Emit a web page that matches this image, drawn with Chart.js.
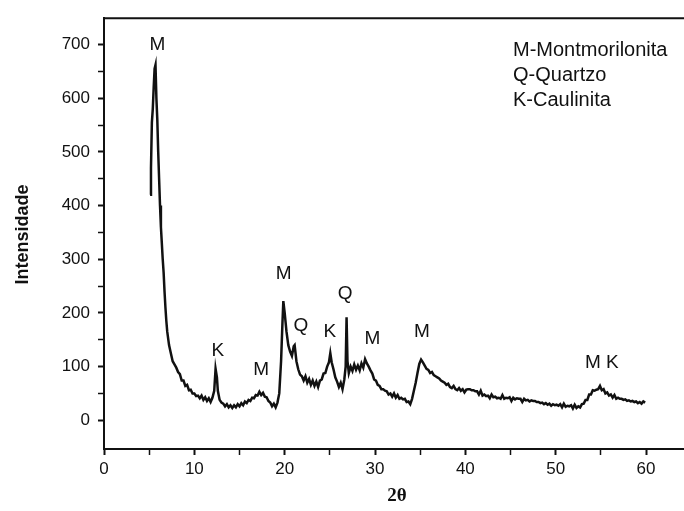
<!DOCTYPE html>
<html><head><meta charset="utf-8">
<script src="https://cdn.jsdelivr.net/npm/chart.js@4"></script>
<style>html,body{margin:0;padding:0;background:#fff}canvas{display:block}</style>
</head><body>
<canvas id="c" width="684" height="511"></canvas>
<script>
const twoTheta = [
5.1,5.2,5.3,5.4,5.5,5.6,5.7,5.8,5.9,6.0,6.1,6.2,6.3,6.4,6.5,6.6,6.7,6.8,6.9,7.0,7.2,7.4,7.6,7.8,8.0,8.2,8.4,8.6,8.8,9.0,9.2,9.4,9.6,9.8,10.0,10.2,10.4,10.6,10.8,11.0,11.2,11.4,11.6,11.8,12.0,12.2,12.35,12.5,12.6,12.8,13.0,
13.2,13.4,13.6,13.8,14.0,14.2,14.4,14.6,14.8,15.0,15.2,15.4,15.6,15.8,16.0,16.2,16.4,16.6,16.8,17.0,17.2,17.4,17.6,17.8,18.0,18.2,18.4,18.6,18.8,19.0,19.2,19.4,19.6,19.75,19.85,20.0,20.2,20.4,20.6,20.8,21.0,21.1,21.3,21.5,21.7,21.9,22.1,22.3,22.5,22.7,22.9,23.1,23.3,23.5,23.7,23.9,24.1,24.3,24.5,24.7,24.9,25.05,25.2,25.4,25.6,25.8,26.0,26.2,26.4,26.6,26.75,26.85,26.95,27.1,27.3,27.5,27.7,27.9,28.1,28.3,28.5,28.7,28.9,29.1,29.3,29.5,29.7,29.9,
30.1,30.3,30.5,30.7,30.9,31.1,31.3,31.5,31.7,31.9,32.1,32.3,32.5,32.7,32.9,33.1,33.3,33.5,33.7,33.9,34.1,34.3,34.5,34.7,34.9,35.1,35.3,35.5,35.7,35.9,36.1,36.3,36.5,36.7,36.9,37.1,37.3,37.5,37.7,37.9,38.1,38.3,38.5,38.7,38.9,39.1,39.3,39.5,39.7,39.9,
40.1,40.3,40.5,40.7,40.9,41.1,41.3,41.5,41.7,41.9,42.1,42.3,42.5,42.7,42.9,43.1,43.3,43.5,43.7,43.9,44.1,44.3,44.5,44.7,44.9,45.1,45.3,45.5,45.7,45.9,46.1,46.3,46.5,46.7,46.9,47.1,47.3,47.5,47.7,47.9,48.1,48.3,48.5,48.7,48.9,49.1,49.3,49.5,49.7,49.9,
50.1,50.3,50.5,50.7,50.9,51.1,51.3,51.5,51.7,51.9,52.1,52.3,52.5,52.7,52.9,53.1,53.3,53.5,53.7,53.9,54.1,54.3,54.5,54.7,54.9,55.1,55.3,55.5,55.7,55.9,56.1,56.3,56.5,56.7,56.9,57.1,57.3,57.5,57.7,57.9,58.1,58.3,58.5,58.7,58.9,59.1,59.3,59.5,59.7,59.9
];
const intensity = [
420,470,555,580,620,655,662,600,560,500,450,400,360,330,300,275,240,210,185,165,140,125,110,104,98,90,86,74,74,64,66,56,57,50,50,45,46,41,46,38,43,36,41,34,42,55,96,80,55,38,33,
31,26,30,24,28,23,28,24,30,26,32,28,35,32,38,36,42,41,47,46,53,47,51,44,43,36,33,26,31,24,33,50,110,180,222,200,165,140,128,120,138,140,110,95,85,82,74,82,70,77,66,74,64,72,62,74,76,87,88,100,108,125,108,95,80,72,62,70,58,76,100,192,110,88,100,92,104,94,102,93,106,98,114,106,100,93,87,76,
74,66,64,58,58,55,54,48,50,44,50,42,47,40,42,39,40,34,35,30,40,55,70,88,105,113,108,102,96,94,88,90,84,82,80,78,74,72,70,66,68,62,60,64,58,56,60,55,58,52,
57,58,58,56,56,54,54,48,55,46,48,45,46,41,48,43,44,41,42,40,47,40,42,41,43,36,42,39,41,40,40,34,40,37,38,35,37,36,36,34,34,32,33,30,32,29,31,27,30,28,
29,27,30,24,31,25,27,26,28,22,29,23,26,24,30,31,38,38,48,48,56,55,57,58,64,56,58,50,52,46,48,42,47,40,42,40,40,38,39,36,37,35,36,34,35,32,34,31,35,33
];
const peakLabels = ['M','K','M','M','Q','K','Q','M','M','M K'];
const peakTheta = [5.9,12.6,17.4,19.9,21.8,25.0,26.7,29.7,35.2,55.1];
const peakIntensity = [700,129,94,272,176,165,235,152,165,107];
const legendLines = ['M-Montmorilonita','Q-Quartzo','K-Caulinita'];
const yMajorTicks = [0,100,200,300,400,500,600,700];
const yMinorTicks = [50,150,250,350,450,550,650];
const xMajorTicks = [0,10,20,30,40,50,60];
const xMinorTicks = [5,15,25,35,45,55];
const yAxisTitle = 'Intensidade';
const xAxisTitle = '2\u03B8';

const ink = '#111';
const points = twoTheta.map((t,i)=>({x:t,y:intensity[i]}));

const overlay = {
  id:'overlay',
  afterDraw(chart){
    const ctx = chart.ctx, xs = chart.scales.x, ys = chart.scales.y, a = chart.chartArea;
    ctx.save();
    ctx.fillStyle = ink;
    ctx.font = '19px "Liberation Sans", Arial, sans-serif';
    ctx.textAlign = 'center'; ctx.textBaseline = 'middle';
    peakLabels.forEach((l,i)=>ctx.fillText(l, xs.getPixelForValue(peakTheta[i]), ys.getPixelForValue(peakIntensity[i])));
    ctx.textAlign = 'left'; ctx.textBaseline = 'alphabetic';
    ctx.font = '20px "Liberation Sans", Arial, sans-serif';
    legendLines.forEach((l,i)=>ctx.fillText(l, 513, 56 + 25*i));
    // top frame
    ctx.strokeStyle = ink; ctx.lineWidth = 2;
    ctx.beginPath(); ctx.moveTo(a.left - 1, a.top); ctx.lineTo(a.right, a.top); ctx.stroke();
    // axis titles
    ctx.font = 'bold 18px "Liberation Sans", Arial, sans-serif';
    ctx.textAlign = 'center'; ctx.textBaseline = 'middle';
    ctx.translate(23, (a.top + a.bottom)/2 + 1);
    ctx.rotate(-Math.PI/2);
    ctx.fillText(yAxisTitle, 0, 0);
    ctx.setTransform(1,0,0,1,0,0);
    ctx.font = 'bold 19px "Liberation Serif", "Times New Roman", serif';
    ctx.fillText(xAxisTitle, 397, 496);
    ctx.restore();
  }
};

new Chart(document.getElementById('c'), {
  type:'line',
  data:{datasets:[{data:points, borderColor:ink, borderWidth:2.5, pointRadius:0, tension:0, fill:false}]},
  options:{
    responsive:false, devicePixelRatio:1, animation:false,
    layout:{padding:{top:14,right:0,left:0,bottom:0}},
    plugins:{legend:{display:false}, tooltip:{enabled:false}},
    scales:{
      x:{type:'linear', min:0, max:64.2,
        afterBuildTicks(s){ s.ticks = xMajorTicks.concat(xMinorTicks).sort((p,q)=>p-q).map(v=>({value:v})); },
        afterFit(s){ s.height = 62; },
        ticks:{autoSkip:false, maxRotation:0, padding:4, color:ink, font:{family:'"Liberation Sans", Arial, sans-serif', size:17},
          callback:v=> xMajorTicks.includes(v) ? String(v) : ''},
        grid:{drawOnChartArea:false, drawTicks:true, tickLength:6, tickColor:ink,
          tickWidth:c=> (c.tick && xMajorTicks.includes(c.tick.value)) ? 2 : 1.5},
        border:{display:true, color:ink, width:2}
      },
      y:{type:'linear', min:-53.5, max:749,
        afterBuildTicks(s){ s.ticks = yMajorTicks.concat(yMinorTicks).sort((p,q)=>p-q).map(v=>({value:v})); },
        afterFit(s){ s.width = 104; },
        ticks:{autoSkip:false, padding:8, color:ink, font:{family:'"Liberation Sans", Arial, sans-serif', size:17},
          callback:v=> yMajorTicks.includes(v) ? String(v) : ''},
        grid:{drawOnChartArea:false, drawTicks:true, tickLength:6, tickColor:ink,
          tickWidth:c=> (c.tick && yMajorTicks.includes(c.tick.value)) ? 2 : 1.5},
        border:{display:true, color:ink, width:2}
      }
    }
  },
  plugins:[overlay]
});
</script>
</body></html>
